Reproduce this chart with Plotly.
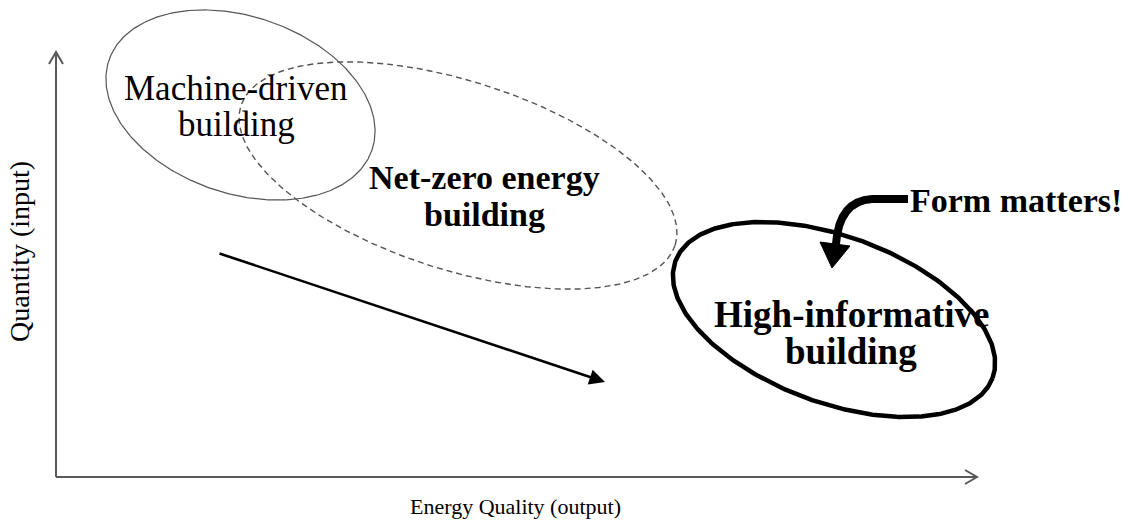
import numpy as np
import plotly.graph_objects as go

W, H = 1133, 524

# Ellipse (region) definitions, in pixel-space of the diagram
ellipse_names = ["Machine-driven", "Net-zero energy", "High-informative"]
ellipse_cx = [240.5, 458.0, 834.0]
ellipse_cy = [105.0, 175.5, 319.5]
ellipse_a = [139.0, 228.0, 169.0]
ellipse_b = [88.5, 94.3, 83.2]
ellipse_tilt_deg = [18.9, 17.8, 20.25]
ellipse_color = ["#555555", "#555555", "#000000"]
ellipse_width = [1.2, 1.4, 4.5]
ellipse_dash = ["solid", "6px,4px", "solid"]

# Text labels (one entry per text line)
label_texts = ["Machine-driven", "building",
               "<b>Net-zero energy</b>", "<b>building</b>",
               "<b>High-informative</b>", "<b>building</b>",
               "<b>Form matters!</b>"]
label_x = [236, 236, 484, 484, 851, 851, 1016]
label_y = [88, 124, 177, 214, 314, 351, 200]
label_size = [35, 35, 34, 34, 37, 37, 34]

x_title = "Energy Quality (output)"
y_title = "Quantity (input)"

# Trend arrow (tail -> head)
trend_tail = [218, 253]
trend_head = [605, 382]

FONT = "Liberation Serif, Times New Roman, serif"

fig = go.Figure()

t = np.linspace(0, 2 * np.pi, 400)
for name, cx, cy, a, b, th, col, lw, dash in zip(
        ellipse_names, ellipse_cx, ellipse_cy, ellipse_a, ellipse_b,
        ellipse_tilt_deg, ellipse_color, ellipse_width, ellipse_dash):
    r = np.deg2rad(th)
    xs = cx + a * np.cos(t) * np.cos(r) - b * np.sin(t) * np.sin(r)
    ys = cy + a * np.cos(t) * np.sin(r) + b * np.sin(t) * np.cos(r)
    fig.add_trace(go.Scatter(x=xs, y=ys, mode="lines", name=name,
                             line=dict(color=col, width=lw, dash=dash),
                             hoverinfo="skip", showlegend=False))

axis_col = "#595959"
shapes = [
    # y axis
    dict(type="line", x0=56, y0=477, x1=56, y1=53, line=dict(color=axis_col, width=2)),
    dict(type="path", path="M 49 64 L 56 52 L 63 64", line=dict(color=axis_col, width=2)),
    # x axis
    dict(type="line", x0=56, y0=477, x1=976, y1=477, line=dict(color=axis_col, width=2)),
    dict(type="path", path="M 965 470 L 977 477 L 965 484", line=dict(color=axis_col, width=2)),
    # Form matters curved arrow
    dict(type="path", path="M 908 199 L 872 199 Q 839 201 836 244",
         line=dict(color="black", width=8)),
    dict(type="path", path="M 820 242 L 850 246 L 832 268 Z",
         line=dict(color="black", width=1), fillcolor="black"),
]

annotations = []
for txt, x, y, s in zip(label_texts, label_x, label_y, label_size):
    annotations.append(dict(x=x, y=y, xref="x", yref="y", text=txt, showarrow=False,
                            font=dict(family=FONT, size=s, color="black"),
                            xanchor="center", yanchor="middle"))
annotations.append(dict(x=515, y=506, xref="x", yref="y", text=x_title, showarrow=False,
                        font=dict(family=FONT, size=22, color="black")))
annotations.append(dict(x=19, y=252, xref="x", yref="y", text=y_title, showarrow=False,
                        textangle=-90, font=dict(family=FONT, size=28, color="black")))
annotations.append(dict(x=trend_head[0], y=trend_head[1], ax=trend_tail[0], ay=trend_tail[1],
                        xref="x", yref="y", axref="x", ayref="y", text="", showarrow=True,
                        arrowhead=2, arrowsize=1.2, arrowwidth=2.6, arrowcolor="black",
                        standoff=0))

fig.update_layout(
    width=W, height=H, margin=dict(l=0, r=0, t=0, b=0),
    paper_bgcolor="white", plot_bgcolor="white",
    xaxis=dict(range=[0, W], visible=False, fixedrange=True),
    yaxis=dict(range=[H, 0], visible=False, fixedrange=True),
    shapes=shapes, annotations=annotations, showlegend=False,
)

fig.write_html("out.html", config={"displayModeBar": False},
               post_script="document.body.style.margin='0px';document.body.style.overflow='hidden';")
